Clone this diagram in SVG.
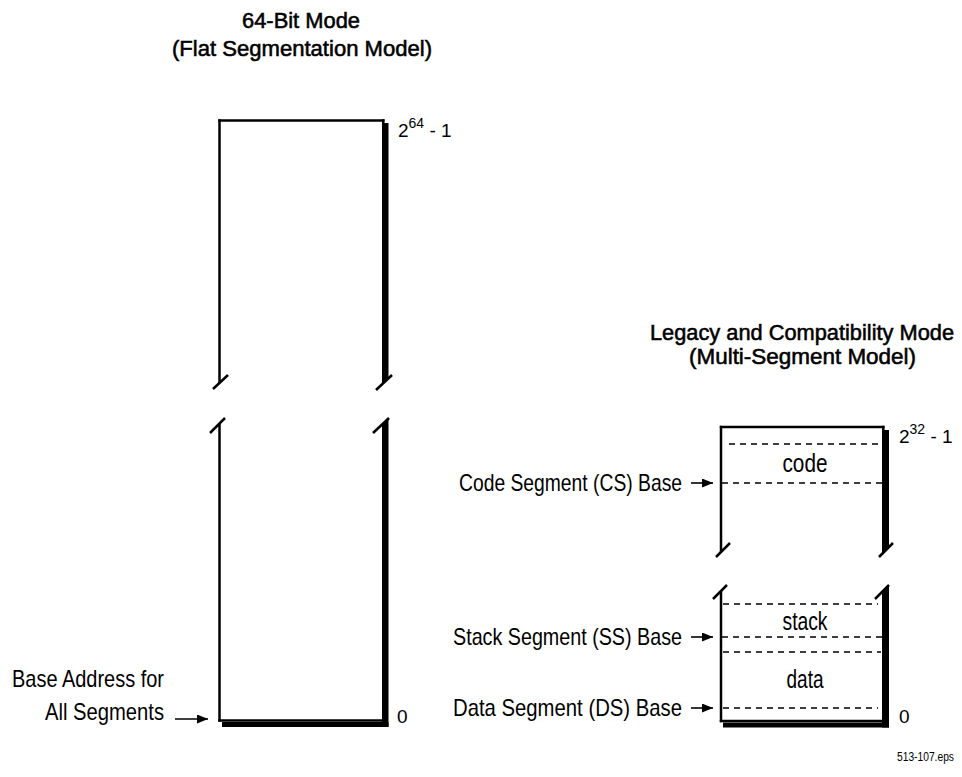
<svg xmlns="http://www.w3.org/2000/svg" width="962" height="777" viewBox="0 0 962 777">
<style>
.t{font-family:"Liberation Sans",Arial,sans-serif;fill:#000}
.title{font-size:22px;font-weight:normal;text-anchor:middle;stroke:#000;stroke-width:0.55px}
.lbl{font-size:24px;text-anchor:end}
.seg{font-size:26px;text-anchor:middle}
.num{font-size:19px}
.ln{stroke:#000;stroke-width:2.5;fill:none;stroke-linecap:butt}
.dash{stroke:#000;stroke-width:1.3;stroke-dasharray:6 5;fill:none}
.sh{fill:#000;stroke:none}
.arr{stroke:#000;stroke-width:1.6;fill:none;marker-end:url(#ah)}
</style>
<defs>
<marker id="ah" markerUnits="userSpaceOnUse" viewBox="0 0 11 9" refX="11" refY="4.5" markerWidth="11" markerHeight="9" orient="auto">
<path d="M0,0 L11,4.5 L0,9 z" fill="#000"/>
</marker>
</defs>
<rect width="962" height="777" fill="#fff"/>

<g id="title-flat">
<text class="t title" x="301" y="28" textLength="118" lengthAdjust="spacingAndGlyphs">64-Bit Mode</text>
<text class="t title" x="302" y="56" textLength="260" lengthAdjust="spacingAndGlyphs">(Flat Segmentation Model)</text>
</g>

<g id="title-legacy">
<text class="t title" x="802" y="340" textLength="304" lengthAdjust="spacingAndGlyphs">Legacy and Compatibility Mode</text>
<text class="t title" x="802.5" y="364" textLength="227" lengthAdjust="spacingAndGlyphs">(Multi-Segment Model)</text>
</g>

<g id="flat-memory">
<line class="ln" x1="218.3" y1="120.5" x2="384.5" y2="120.5"/>
<line class="ln" x1="219.5" y1="119.3" x2="219.5" y2="383"/>
<polygon class="sh" points="382,119.3 384.5,119.3 384.5,123 388.5,123 388.5,378.3 382,384.4"/>
<line class="ln" x1="213" y1="389" x2="228" y2="375"/>
<line class="ln" x1="376" y1="390" x2="392" y2="375"/>
<line class="ln" x1="210" y1="433" x2="225" y2="418"/>
<line class="ln" x1="373" y1="433" x2="389" y2="418"/>
<line class="ln" x1="219.5" y1="423.5" x2="219.5" y2="721.7"/>
<polygon class="sh" points="382,424.6 388.5,418.5 388.5,727 382,727"/>
<line class="ln" x1="218.3" y1="720.5" x2="384" y2="720.5"/>
<rect class="sh" x="222" y="722" width="166.5" height="5"/>
<text class="t num" x="398" y="137">2<tspan dy="-9" font-size="14">64</tspan><tspan dy="9"> - 1</tspan></text>
<text class="t num" x="397" y="723">0</text>
</g>

<g id="multi-segment-memory">
<line class="ln" x1="719.8" y1="427" x2="884.5" y2="427"/>
<line class="ln" x1="721" y1="425.8" x2="721" y2="552"/>
<polygon class="sh" points="882,425.8 884.5,425.8 884.5,430 889,430 889,547 882,553.7"/>
<line class="ln" x1="716" y1="557" x2="730" y2="543"/>
<line class="ln" x1="879" y1="557" x2="893" y2="543"/>
<line class="ln" x1="713" y1="599" x2="727" y2="585"/>
<line class="ln" x1="875" y1="599" x2="889" y2="585"/>
<line class="ln" x1="721" y1="591" x2="721" y2="722.2"/>
<polygon class="sh" points="882,592 889,585 889,727.5 882,727.5"/>
<line class="ln" x1="719.8" y1="721" x2="884" y2="721"/>
<rect class="sh" x="723" y="722.5" width="166" height="5"/>
<line class="dash" x1="729" y1="444" x2="881" y2="444"/>
<line class="dash" x1="722" y1="483" x2="882" y2="483"/>
<line class="dash" x1="723" y1="604" x2="878" y2="604"/>
<line class="dash" x1="722" y1="637" x2="882" y2="637"/>
<line class="dash" x1="723" y1="652" x2="881" y2="652"/>
<line class="dash" x1="723" y1="708" x2="878" y2="708"/>
<text class="t seg" x="805" y="472" textLength="45" lengthAdjust="spacingAndGlyphs">code</text>
<text class="t seg" x="805" y="630" textLength="45" lengthAdjust="spacingAndGlyphs">stack</text>
<text class="t seg" x="805" y="688" textLength="37" lengthAdjust="spacingAndGlyphs">data</text>
<text class="t num" x="899" y="443">2<tspan dy="-9" font-size="14">32</tspan><tspan dy="9"> - 1</tspan></text>
<text class="t num" x="899" y="723">0</text>
</g>

<g id="labels">
<text class="t lbl" x="164" y="687" textLength="152" lengthAdjust="spacingAndGlyphs">Base Address for</text>
<text class="t lbl" x="164" y="720" textLength="119" lengthAdjust="spacingAndGlyphs">All Segments</text>
<text class="t lbl" x="682" y="491" textLength="223" lengthAdjust="spacingAndGlyphs">Code Segment (CS) Base</text>
<text class="t lbl" x="682" y="645" textLength="229" lengthAdjust="spacingAndGlyphs">Stack Segment (SS) Base</text>
<text class="t lbl" x="682" y="716" textLength="229" lengthAdjust="spacingAndGlyphs">Data Segment (DS) Base</text>
<text class="t" x="954" y="761" font-size="12" text-anchor="end" textLength="57" lengthAdjust="spacingAndGlyphs">513-107.eps</text>
</g>

<g id="connectors">
<line class="arr" x1="175" y1="719" x2="208" y2="719"/>
<line class="arr" x1="691" y1="483" x2="713" y2="483"/>
<line class="arr" x1="691" y1="637" x2="713" y2="637"/>
<line class="arr" x1="691" y1="708" x2="713" y2="708"/>
</g>
</svg>
